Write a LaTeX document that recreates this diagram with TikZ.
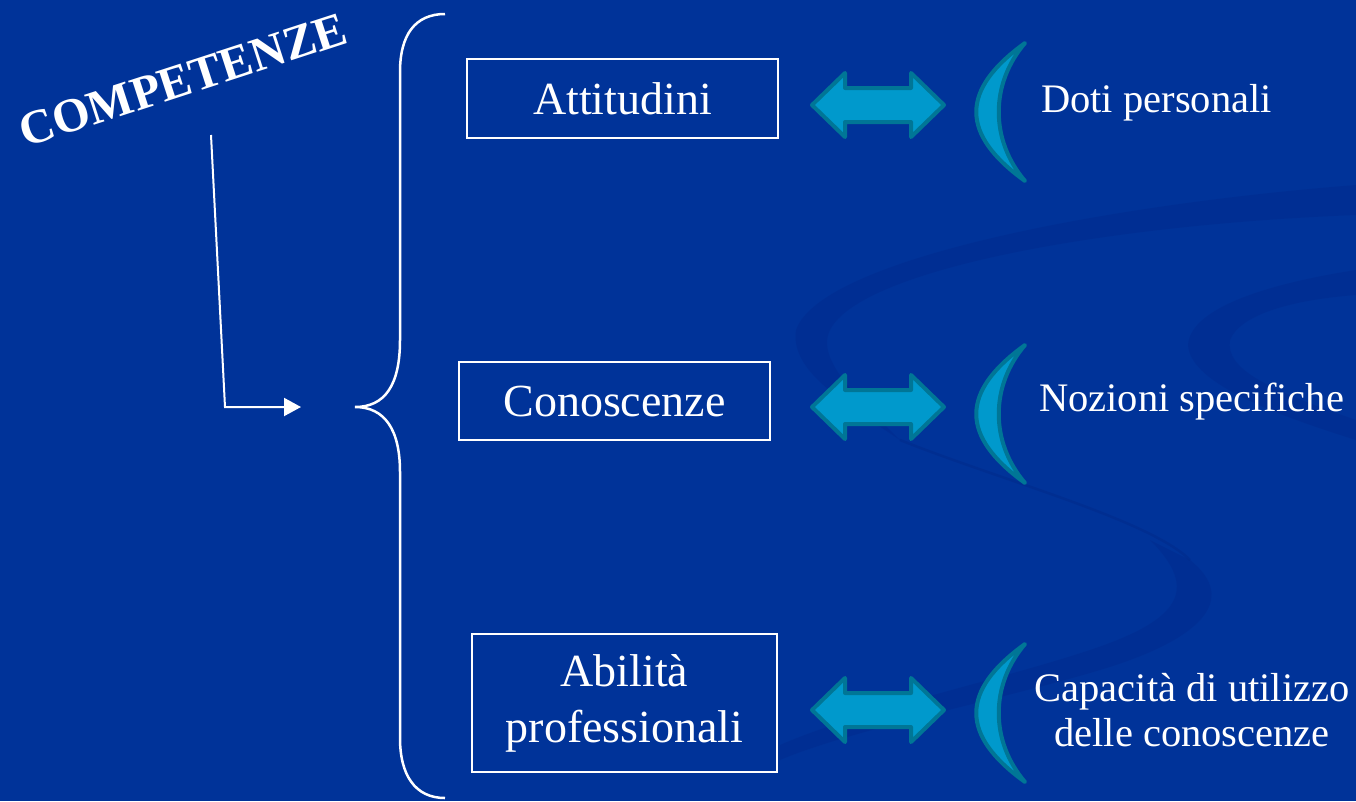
\documentclass[tikz,border=0pt]{standalone}
\usepackage{fontspec}
\setmainfont{Liberation Serif}
\usetikzlibrary{arrows.meta}
\definecolor{bgblue}{RGB}{0,51,153}
\definecolor{swirl}{RGB}{0,42,140}
\definecolor{cyanfill}{RGB}{0,153,204}
\definecolor{tealedge}{RGB}{0,118,150}
\tikzset{
  box/.style={draw=white, line width=2pt, text=white, align=center, font=\fontsize{46}{56}\selectfont, inner sep=0pt},
  lbl/.style={text=white, align=center, font=\fontsize{40.5}{45}\selectfont, inner sep=0pt},
  shapeedge/.style={draw=tealedge, fill=cyanfill, line width=4pt, line join=round},
  wire/.style={draw=white, line width=2pt},
  bandfill/.style={fill=swirl, opacity=0.45},
  bandline/.style={draw=swirl, opacity=0.55}
}
\newcommand{\dblarr}[1]{%
  \begin{scope}[shift={(0,#1)}]
    \path[shapeedge] (812,0) -- (845,-32) -- (845,-17) -- (911,-17) -- (911,-32) -- (944,0)
      -- (911,32) -- (911,17) -- (845,17) -- (845,32) -- cycle;
  \end{scope}}
\newcommand{\crescentshape}[1]{%
  \begin{scope}[shift={(0,#1)}]
    \path[shapeedge] (1025,-69) .. controls (960,-22) and (960,22) .. (1025,69)
      .. controls (990,28) and (990,-28) .. (1025,-69) -- cycle;
  \end{scope}}
\begin{document}
\begin{tikzpicture}[x=1pt,y=-1pt]
  \fill[bgblue] (0,0) rectangle (1356,801);
  \useasboundingbox (0,0) rectangle (1356,801);
  % background swirls
  \begin{scope}
    \clip (0,0) rectangle (1356,801);
    \path[bandfill] (1356,185) .. controls (1100,205) and (820,260) .. (796,330)
      .. controls (790,370) and (840,400) .. (900,440)
      .. controls (860,400) and (815,360) .. (830,330)
      .. controls (860,270) and (1100,225) .. (1356,215) -- cycle;
    \path[bandline, line width=2.5pt] (900,440) .. controls (1000,480) and (1150,520) .. (1190,560);
    \path[bandfill] (1190,560) .. controls (1240,600) and (1200,640) .. (1100,670)
      .. controls (1000,700) and (850,730) .. (780,760) -- (780,745)
      .. controls (860,710) and (1000,680) .. (1090,650)
      .. controls (1180,620) and (1200,590) .. (1150,540) -- cycle;
    \path[bandfill] (1356,270) .. controls (1260,285) and (1190,310) .. (1188,345)
      .. controls (1190,380) and (1260,410) .. (1356,440) -- (1356,420)
      .. controls (1270,390) and (1225,370) .. (1230,340)
      .. controls (1240,315) and (1290,300) .. (1356,295) -- cycle;
  \end{scope}
  % title
  \node[text=white, rotate=18, font=\fontsize{48}{52}\selectfont\bfseries, inner sep=0pt] (title) at (183,80) {COMPETENZE};
  % brace
  \coordinate (bracetip) at (355,407);
  \coordinate (bracetop) at (445,14);
  \coordinate (bracebot) at (445,798);
  \draw[white, line width=2.5pt] (bracetop) .. controls (415,14) and (400,35) .. (400,72)
    -- (400,340) .. controls (400,385) and (385,407) .. (bracetip)
    .. controls (385,407) and (400,430) .. (400,472)
    -- (400,738) .. controls (400,775) and (415,798) .. (bracebot);
  % arrow from title
  \coordinate (astart) at (211,135);
  \coordinate (acorner) at (225,407);
  \coordinate (aend) at (301,407);
  \draw[wire, -{Triangle[length=17pt,width=18pt]}] (astart) -- (acorner) -- (aend);
  % boxes
  \node[box, minimum width=311pt, minimum height=79pt] (att) at (622.5,98.5) {Attitudini};
  \node[box, minimum width=311pt, minimum height=78pt] (con) at (614.5,401) {Conoscenze};
  \node[box, minimum width=305pt, minimum height=138pt] (abi) at (624.5,703) {Abilità\\professionali};
  % double arrows
  \dblarr{105}
  \dblarr{407}
  \dblarr{710}
  % crescents
  \crescentshape{112}
  \crescentshape{414}
  \crescentshape{713}
  % right labels
  \node[lbl, anchor=west] (doti) at (1041,103) {Doti personali};
  \node[lbl, anchor=west] (noz) at (1039,402) {Nozioni specifiche};
  \node[lbl] (cap) at (1192,710) {Capacità di utilizzo\\delle conoscenze};
\end{tikzpicture}
\end{document}
